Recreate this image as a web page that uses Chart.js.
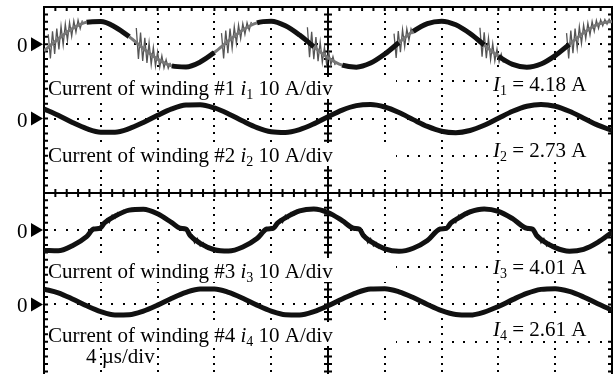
<!DOCTYPE html>
<html>
<head>
<meta charset="utf-8">
<script src="https://cdn.jsdelivr.net/npm/chart.js@4.4.0/dist/chart.umd.min.js"></script>
<style>
  body { margin: 0; background: #fff; }
  #scope { display: block; }
</style>
</head>
<body>
<canvas id="scope" width="614" height="374"></canvas>
<script>
// scope settings
const US_PER_DIV = 4;
const AMPS_PER_DIV = 10;
const zeroLevels = [4, 2, -1, -3]; // channel zero, in divisions from screen centre
const rmsValues = ['4.18', '2.73', '4.01', '2.61'];

// time axis, µs
const times = [0, 1, 2, 3, 4, 5, 6, 7, 8, 9, 10, 11, 12, 13, 14, 15, 16, 17, 18, 19, 20,
    21, 22, 23, 24, 25, 26, 27, 28, 29, 30, 31, 32, 33, 34, 35, 36, 37, 38, 39, 40];

// winding currents, A
const winding1 = [-1.77, 1.40, 4.21, 5.90, 6.07, 4.64, 2.00, -1.16, -4.02, -5.83, -6.11,
    -4.80, -2.22, 0.93, 3.83, 5.74, 6.15, 4.94, 2.44, -0.69, -3.64, -5.65, -6.17, -5.08,
    -2.66, 0.45, 3.45, 5.55, 6.19, 5.22, 2.87, -0.22, -3.25, -5.44, -6.20, -5.34, -3.08,
    -0.02, 3.04, 5.32, 6.20];
const winding2 = [2.58, 0.87, -1.06, -2.72, -3.67, -3.67, -2.72, -1.06, 0.87, 2.58, 3.62,
    3.72, 2.85, 1.25, -0.68, -2.43, -3.55, -3.75, -2.98, -1.43, 0.49, 2.28, 3.48, 3.78,
    3.10, 1.61, -0.29, -2.12, -3.40, -3.80, -3.21, -1.79, 0.09, 1.95, 3.31, 3.80, 3.31,
    1.96, 0.11, -1.78, -3.20];
// winding 3 has a short flat step at every zero crossing, so it keeps its own times
const winding3 = [[0, -5.47], [1, -5.55], [2, -4.18], [3, -1.73], [3.5, 0.3], [3.95, 0.5],
    [4.25, 1.9], [5, 3.76], [6, 5.38], [7, 5.61], [8, 4.38], [9, 2.01], [9.6, 0.5],
    [10.0, 0.3], [10.3, -1.5], [11, -3.54], [12, -5.28], [13, -5.65], [14, -4.56],
    [15, -2.28], [15.7, 0.3], [16.15, 0.5], [16.45, 1.9], [17, 3.30], [18, 5.16],
    [19, 5.68], [20, 4.73], [21, 2.55], [21.8, 0.5], [22.2, 0.3], [22.5, -1.5],
    [23, -3.05], [24, -5.03], [25, -5.70], [26, -4.89], [27, -2.82], [27.9, 0.3],
    [28.35, 0.5], [28.65, 1.9], [29, 2.80], [30, 4.88], [31, 5.70], [32, 5.04], [33, 3.07],
    [34.0, 0.5], [34.4, 0.3], [34.7, -1.5], [35, -2.54], [36, -4.72], [37, -5.68],
    [38, -5.17], [39, -3.32], [40, -0.61]];
const winding4 = [4.13, 3.13, 1.49, -0.36, -1.93, -2.80, -2.75, -1.79, -0.18, 1.67, 3.26,
    4.18, 4.18, 3.26, 1.67, -0.18, -1.79, -2.75, -2.80, -1.93, -0.36, 1.49, 3.13, 4.13,
    4.22, 3.39, 1.85, 0.01, -1.65, -2.69, -2.84, -2.05, -0.54, 1.30, 2.99, 4.06, 4.26,
    3.51, 2.02, 0.19, -1.51];

// switching ripple after the zero crossings of winding 1, [µs, A]
const ripple1 = [
    [[0.30, 2.67], [0.45, -3.86], [0.60, 3.49], [0.75, -2.61], [0.90, 4.17], [1.05, -1.39],
     [1.20, 4.82], [1.35, -0.20], [1.50, 5.42], [1.65, 1.07], [1.80, 5.81], [1.95, 2.12],
     [2.10, 6.25], [2.25, 3.22], [2.40, 6.45], [2.55, 4.19], [2.70, 6.38]],
    [[6.50, 4.35], [6.65, -3.96], [6.80, 3.11], [6.95, -4.50], [7.10, 1.74], [7.25, -5.02],
     [7.40, 0.41], [7.55, -5.49], [7.70, -0.87], [7.85, -5.88], [8.00, -2.06], [8.15, -6.19],
     [8.30, -3.16], [8.45, -6.40], [8.60, -4.15], [8.75, -6.49], [8.90, -5.01]],
    [[12.50, 2.97], [12.65, -3.83], [12.80, 3.65], [12.95, -2.45], [13.10, 4.18],
     [13.25, -1.09], [13.40, 4.69], [13.55, 0.23], [13.70, 5.14], [13.85, 1.49],
     [14.00, 5.52], [14.15, 2.66], [14.30, 5.80], [14.45, 3.74], [14.60, 5.98]],
    [[18.55, 4.55], [18.70, -3.49], [18.85, 3.31], [19.00, -4.03], [19.15, 1.93],
     [19.30, -4.56], [19.45, 0.58], [19.60, -4.90], [19.75, -0.85], [19.90, -5.33],
     [20.05, -2.08], [20.20, -5.53], [20.35, -3.36], [20.50, -5.64]],
    [[24.65, 2.83], [24.80, -3.69], [24.95, 3.51], [25.10, -2.17], [25.25, 3.90],
     [25.40, -0.67], [25.55, 4.13], [25.70, 1.07], [25.85, 4.16], [26.00, 2.75]],
    [[30.70, 4.41], [30.85, -3.35], [31.00, 3.17], [31.15, -3.75], [31.30, 1.65],
     [31.45, -4.14], [31.60, 0.16], [31.75, -4.48], [31.90, -1.27], [32.05, -4.77],
     [32.20, -2.64], [32.35, -4.97]],
    [[36.80, 2.97], [36.95, -3.83], [37.10, 3.65], [37.25, -2.45], [37.40, 4.18],
     [37.55, -1.09], [37.70, 4.69], [37.85, 0.23], [38.00, 5.14], [38.15, 1.49],
     [38.30, 5.66], [38.45, 2.52], [38.60, 6.08], [38.75, 3.46], [38.90, 6.40],
     [39.05, 4.27], [39.20, 6.59], [39.35, 4.96], [39.50, 6.65], [39.65, 5.37],
     [39.80, 6.71], [39.95, 5.63]],
];
// smaller ripple on winding 3
const ripple3 = [
    [[4.4, 3.08], [4.6, 2.01], [4.8, 4.00], [5.0, 3.16], [5.2, 4.68], [5.4, 4.06], [5.6, 5.29], [5.8, 4.86]],
    [[10.4, -1.11], [10.6, -3.45], [10.8, -2.26], [11.0, -4.24], [11.2, -3.38], [11.4, -4.88], [11.6, -4.33], [11.8, -5.33]],
    [[16.6, 3.08], [16.8, 2.01], [17.0, 4.00], [17.2, 3.16], [17.4, 4.68], [17.6, 4.06], [17.8, 5.29], [18.0, 4.86]],
    [[22.6, -1.11], [22.8, -3.45], [23.0, -2.26], [23.2, -4.24], [23.4, -3.38], [23.6, -4.88], [23.8, -4.33], [24.0, -5.33]],
    [[28.8, 3.08], [29.0, 2.01], [29.2, 4.00], [29.4, 3.16], [29.6, 4.68], [29.8, 4.06], [30.0, 5.29], [30.2, 4.86]],
    [[34.8, -1.11], [35.0, -3.45], [35.2, -2.26], [35.4, -4.24], [35.6, -3.38], [35.8, -4.88], [36.0, -4.33], [36.2, -5.33]],
];

const toDiv = (ch, amps) => zeroLevels[ch] + amps / AMPS_PER_DIV;
const fromList = (ch, list) => list.map((a, k) => ({x: times[k], y: toDiv(ch, a)}));
const fromPairs = (ch, pairs) => pairs.map(([t, a]) => ({x: t, y: toDiv(ch, a)}));

// where winding 1 rings, its trace is drawn lighter
const burstSpans = ripple1.map(b => [b[0][0], b[b.length - 1][0]]);
const inBurst = (c) => burstSpans.some(([s, e]) =>
    Math.min(e, c.p1.parsed.x) - Math.max(s, c.p0.parsed.x) >= 0.5);

const trace = (data, extra) => Object.assign({
    data, borderColor: '#111', borderWidth: 5, pointRadius: 0,
    cubicInterpolationMode: 'monotone', borderJoinStyle: 'round',
}, extra);
const fuzz = (data, color, width) => ({
    data, borderColor: color, borderWidth: width, pointRadius: 0, tension: 0,
});

const datasets = [
    trace(fromList(0, winding1), {segment: {
        borderColor: c => inBurst(c) ? '#777' : undefined,
        borderWidth: c => inBurst(c) ? 3 : undefined,
    }}),
    trace(fromList(1, winding2)),
    trace(fromPairs(2, winding3)),
    trace(fromList(3, winding4)),
    ...ripple1.map(b => fuzz(fromPairs(0, b), '#555', 1.3)),
    ...ripple3.map(b => fuzz(fromPairs(2, b), '#222', 1.4)),
];

// text boxes pasted over the screen: [left, top, right, bottom]
const labelBoxes = [
    [48, 77, 396, 99], [490, 71, 611, 95],
    [48, 143, 396, 166], [490, 139, 611, 162],
    [48, 258, 396, 282], [490, 255, 611, 279],
    [48, 322, 396, 346], [490, 318, 611, 340],
];
const nameBaselines = [95, 162, 278, 342];
const rmsBaselines = [91, 157, 274, 336];
const FONT = '"Liberation Serif", "Times New Roman", serif';

function drawRuns(ctx, runs, x, y) {
    for (const r of runs) {
        ctx.font = (r.it ? 'italic ' : '') + (r.sub ? 14 : 21) + 'px ' + FONT;
        ctx.fillText(r.t, x, r.sub ? y + 4 : y);
        x += ctx.measureText(r.t).width;
    }
}

const graticule = {
    id: 'graticule',
    beforeDatasetsDraw(chart) {
        const {ctx, scales: {x, y}} = chart;
        const px = (d) => x.getPixelForValue(d * US_PER_DIV);
        const py = (d) => y.getPixelForValue(d);
        ctx.save();
        ctx.fillStyle = '#000';
        // dotted division lines
        for (let d = 1; d < 10; d++) {
            if (d === 5) continue;
            const gx = Math.round(px(d));
            for (let s = 0; s <= 50; s++) ctx.fillRect(gx - 1, Math.round(py(5 - s * 0.2)) - 1, 2, 2);
        }
        for (let d = -4; d <= 4; d++) {
            if (d === 0) continue;
            const gy = Math.round(py(d));
            for (let s = 0; s <= 50; s++) ctx.fillRect(Math.round(px(s * 0.2)) - 1, gy - 1, 2, 2);
        }
        ctx.strokeStyle = '#000';
        ctx.lineWidth = 2;
        const L = px(0), R = px(10), T = py(5), B = py(-5), CX = px(5), CY = py(0);
        ctx.strokeRect(L, T, R - L, B - T);
        ctx.beginPath();
        ctx.moveTo(CX, T); ctx.lineTo(CX, B);
        ctx.moveTo(L, CY); ctx.lineTo(R, CY);
        // minor ticks
        for (let s = 1; s < 50; s++) {
            const tx = px(s * 0.2);
            ctx.moveTo(tx, T); ctx.lineTo(tx, T + 4);
            ctx.moveTo(tx, CY - 4); ctx.lineTo(tx, CY + 4);
            const ty = py(5 - s * 0.2);
            ctx.moveTo(L, ty); ctx.lineTo(L + 4, ty);
            ctx.moveTo(R, ty); ctx.lineTo(R - 4, ty);
            ctx.moveTo(CX - 4, ty); ctx.lineTo(CX + 4, ty);
        }
        ctx.stroke();
        ctx.fillStyle = '#fff';
        for (const [l, t, r, b] of labelBoxes) ctx.fillRect(l, t, r - l, b - t);
        ctx.restore();
    },
    afterDatasetsDraw(chart) {
        const {ctx, scales: {y}} = chart;
        ctx.save();
        ctx.fillStyle = '#000';
        ctx.textBaseline = 'alphabetic';
        ctx.textAlign = 'left';
        for (let ch = 0; ch < 4; ch++) {
            const n = String(ch + 1);
            drawRuns(ctx, [{t: 'Current of winding #' + n + ' '}, {t: 'i', it: true}, {t: n, sub: true},
                {t: ' 10 A/div'}], 48, nameBaselines[ch]);
            drawRuns(ctx, [{t: 'I', it: true}, {t: n, sub: true}, {t: ' = ' + rmsValues[ch] + ' A'}],
                493, rmsBaselines[ch]);
            // zero marker
            const zy = y.getPixelForValue(zeroLevels[ch]);
            ctx.font = '21px ' + FONT;
            ctx.fillText('0', 17, zy + 8);
            ctx.beginPath();
            ctx.moveTo(31, zy - 7); ctx.lineTo(31, zy + 7); ctx.lineTo(43, zy);
            ctx.closePath();
            ctx.fill();
        }
        drawRuns(ctx, [{t: '4 \u00b5s/div'}], 86, 363);
        ctx.restore();
    },
};

new Chart(document.getElementById('scope'), {
    type: 'line',
    data: {datasets},
    options: {
        responsive: false,
        animation: false,
        layout: {padding: {left: 44, right: 2, top: 7, bottom: 0}},
        plugins: {legend: {display: false}, tooltip: {enabled: false}},
        scales: {
            x: {type: 'linear', min: 0, max: 10 * US_PER_DIV, display: false},
            y: {type: 'linear', min: -4.87, max: 5, display: false},
        },
    },
    plugins: [graticule],
});
</script>
</body>
</html>
